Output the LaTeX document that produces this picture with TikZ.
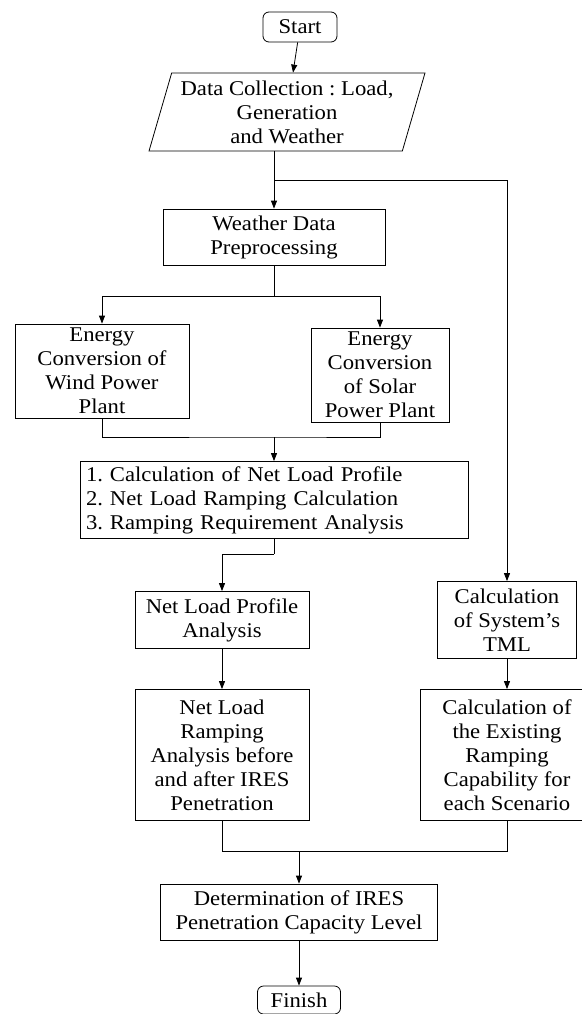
\documentclass[tikz,border=0pt]{standalone}
\usepackage{fontspec}
\setmainfont{Liberation Serif}[FakeStretch=1.08]
\usetikzlibrary{shapes.geometric, arrows.meta}

\begin{document}
\frenchspacing
\begin{tikzpicture}[x=1pt, y=-1pt,
	box/.style={draw, line width=0.8pt, align=center, inner sep=1pt,
		font=\fontsize{21}{24}\selectfont},
	terminal/.style={box, rounded corners=6pt},
	iobox/.style={box, trapezium, trapezium left angle=72, trapezium right angle=108,
		trapezium stretches=true},
	flow/.style={line width=0.8pt, -{Triangle[length=8pt, width=6pt]}},
	link/.style={line width=0.8pt}]

	\useasboundingbox (0, 0) rectangle (581, 1014);

	% terminals and main column
	\node[terminal, minimum width=74, minimum height=30] (start) at (300, 27) {Start};
	\node[iobox, minimum width=277, minimum height=78] (data) at (287, 112) {Data Collection : Load,\\Generation\\and Weather};
	\node[box, minimum width=222, minimum height=56] (weather) at (274, 237) {Weather Data\\Preprocessing};
	\node[box, minimum width=174, minimum height=94] (wind) at (102, 371) {Energy\\Conversion of\\Wind Power\\Plant};
	\node[box, minimum width=138, minimum height=94] (solar) at (380, 375) {Energy\\Conversion\\of Solar\\Power Plant};
	\node[box, minimum width=388, minimum height=77, align=left, text width=376] (calc) at (274, 500) {1. Calculation of Net Load Profile\\2. Net Load Ramping Calculation\\3. Ramping Requirement Analysis};
	\node[box, minimum width=174, minimum height=57] (profile) at (222, 620) {Net Load Profile\\Analysis};
	\node[box, minimum width=174, minimum height=131] (ramping) at (222, 755) {Net Load\\Ramping\\Analysis before\\and after IRES\\Penetration};

	% right column
	\node[box, minimum width=139, minimum height=77] (tml) at (507, 620) {Calculation\\of System’s\\TML};
	\node[box, minimum width=174, minimum height=131] (capab) at (507, 755) {Calculation of\\the Existing\\Ramping\\Capability for\\each Scenario};

	\node[box, minimum width=277, minimum height=56] (level) at (299, 912) {Determination of IRES\\Penetration Capacity Level};
	\node[terminal, minimum width=83, minimum height=28] (finish) at (299, 1000) {Finish};

	% split and join points
	\coordinate (split) at (274, 180);
	\coordinate (fork) at (274, 296);
	\coordinate (join) at (274, 437);
	\coordinate (bend) at (274, 554);
	\coordinate (merge) at (299, 851);

	\draw[flow] (start) -- (data);
	\draw[flow] (weather.north |- data.south) -- (weather.north);
	\draw[flow] (split) -| (tml.north);
	\draw[link] (weather.south) -- (fork);
	\draw[flow] (fork) -| (wind.north);
	\draw[flow] (fork) -| (solar.north);
	\draw[link] (wind.south) |- (join) -| (solar.south);
	\draw[flow] (join) -- (calc.north);
	\draw[link] (calc.south) -- (bend);
	\draw[flow] (bend) -| (profile.north);
	\draw[flow] (profile) -- (ramping);
	\draw[flow] (tml) -- (capab);
	\draw[link] (ramping.south) |- (merge) -| (capab.south);
	\draw[flow] (merge) -- (level.north);
	\draw[flow] (level) -- (finish);
\end{tikzpicture}
\end{document}
